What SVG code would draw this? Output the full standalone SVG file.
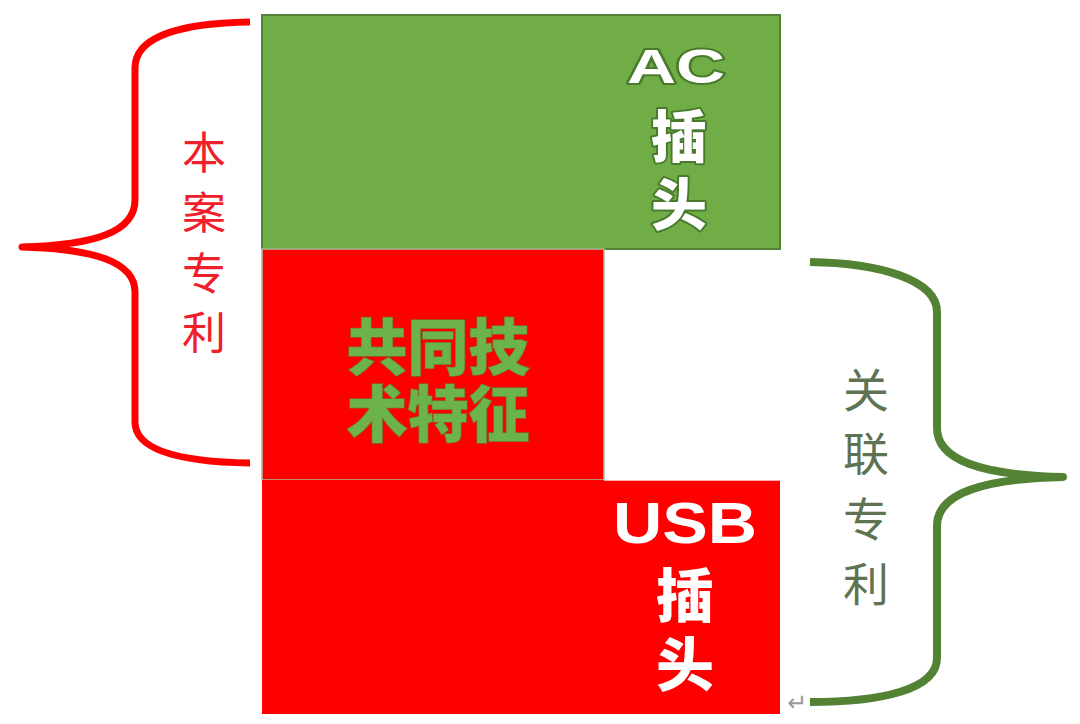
<svg xmlns="http://www.w3.org/2000/svg" width="1080" height="724" viewBox="0 0 1080 724">
<style>
.cjkb{font-family:"Noto Sans CJK SC","Noto Sans",sans-serif;font-weight:900;text-anchor:middle}
.cjk{font-family:"Noto Sans CJK SC","Noto Sans",sans-serif;font-weight:400;text-anchor:middle}
.lat{font-family:"Liberation Sans",Arial,sans-serif;font-weight:700;text-anchor:middle}
.wt{fill:#ffffff}
.ol{stroke:#4a7a2c;stroke-width:4;paint-order:stroke;stroke-linejoin:round}
.brace{fill:none;stroke-linecap:butt;stroke-linejoin:round}
</style>
<rect width="1080" height="724" fill="#ffffff"/>
<g id="node-ac">
<rect x="262" y="15" width="518" height="234" fill="#70ad47" stroke="#548235" stroke-width="2"/>
<text class="lat wt ol" x="676" y="83" font-size="49" textLength="98" lengthAdjust="spacingAndGlyphs">AC</text>
<text class="cjkb wt ol" x="679" y="157" font-size="56">插</text>
<text class="cjkb wt ol" x="679" y="225" font-size="56">头</text>
</g>
<g id="node-common">
<rect x="262" y="249" width="342" height="231" fill="#ff0000" stroke="#a9bf97" stroke-width="1.5"/>
<text class="cjkb" x="438" y="370" font-size="61" fill="#6db34b" stroke="#7d6a2c" stroke-width="1.5" paint-order="stroke">共同技</text>
<text class="cjkb" x="438" y="437" font-size="61" fill="#6db34b" stroke="#7d6a2c" stroke-width="1.5" paint-order="stroke">术特征</text>
</g>
<g id="node-usb">
<rect x="262" y="480" width="518" height="234" fill="#ff0000"/>
<line x1="604" y1="480.5" x2="780" y2="480.5" stroke="#ffb0b0" stroke-width="1"/>
<text class="lat wt" x="685" y="543" font-size="57" textLength="144" lengthAdjust="spacingAndGlyphs">USB</text>
<text class="cjkb wt" x="685" y="617" font-size="58">插</text>
<text class="cjkb wt" x="685" y="686" font-size="58">头</text>
</g>
<g id="connectors">
<path class="brace" stroke="#ff0000" stroke-width="7" d="M250,22 C185,23 135,35 135,68 L135,200 C135,232 95,245 22,247 C95,249 135,262 135,292 L135,422 C135,452 185,462 250,463"/>
<path class="brace" stroke="#548235" stroke-width="8" d="M810,262 C880,263 937,280 937,312 L937,428 C937,460 980,475 1063,477 C980,479 937,494 937,526 L937,658 C937,690 880,702 810,702"/>
</g>
<g id="label-this">
<text class="cjk" x="204" y="169" font-size="44" fill="#f0202a">本</text>
<text class="cjk" x="204" y="229" font-size="44" fill="#f0202a">案</text>
<text class="cjk" x="204" y="290" font-size="44" fill="#f0202a">专</text>
<text class="cjk" x="204" y="349" font-size="44" fill="#f0202a">利</text>
</g>
<g id="label-related">
<text class="cjk" x="866" y="407" font-size="46" fill="#5f7352">关</text>
<text class="cjk" x="866" y="470" font-size="46" fill="#5f7352">联</text>
<text class="cjk" x="866" y="536" font-size="46" fill="#5f7352">专</text>
<text class="cjk" x="866" y="601" font-size="46" fill="#5f7352">利</text>
</g>
<text x="797" y="711" font-family="DejaVu Sans,sans-serif" font-size="24" fill="#9a9a9a" text-anchor="middle">↵</text>
</svg>
